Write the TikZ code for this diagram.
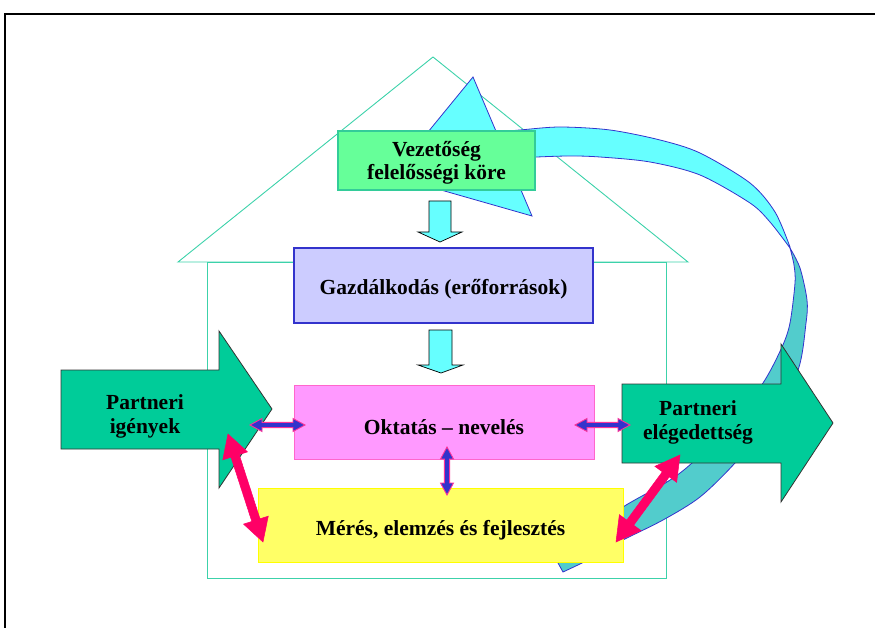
\documentclass[tikz,border=0pt]{standalone}
\usepackage{fontspec}
\setmainfont{Liberation Serif}
\usetikzlibrary{calc}
\definecolor{housec}{RGB}{60,210,170}
\definecolor{vezfill}{RGB}{102,255,153}
\definecolor{vezline}{RGB}{51,204,153}
\definecolor{gazfill}{RGB}{204,204,255}
\definecolor{gazline}{RGB}{51,51,204}
\definecolor{oktfill}{RGB}{255,153,255}
\definecolor{oktline}{RGB}{255,102,204}
\definecolor{merfill}{RGB}{255,255,102}
\definecolor{merline}{RGB}{255,255,0}
\definecolor{bigarr}{RGB}{0,204,153}
\definecolor{riblight}{RGB}{102,255,255}
\definecolor{ribdark}{RGB}{82,204,204}
\definecolor{ribline}{RGB}{51,51,204}
\definecolor{pinkarr}{RGB}{255,0,102}
\definecolor{bluearr}{RGB}{51,51,204}
\definecolor{bluearrline}{RGB}{255,51,153}
\newcommand{\dblarrow}[6]{%
  \filldraw[#6] (#1)
    -- ($(#1)!#3!(#2)!#4!90:(#2)$)
    -- ($(#1)!#3!(#2)!#5!90:(#2)$)
    -- ($(#2)!#3!(#1)!#5!-90:(#1)$)
    -- ($(#2)!#3!(#1)!#4!-90:(#1)$)
    -- (#2)
    -- ($(#2)!#3!(#1)!#4!90:(#1)$)
    -- ($(#2)!#3!(#1)!#5!90:(#1)$)
    -- ($(#1)!#3!(#2)!#5!-90:(#2)$)
    -- ($(#1)!#3!(#2)!#4!-90:(#2)$)
    -- cycle;}
\begin{document}
\begin{tikzpicture}[x=1pt,y=-1pt,
  lbl/.style={font=\fontsize{21.5}{23.5}\selectfont\bfseries,align=center,inner sep=0pt},
  boxshape/.style={rectangle,inner sep=0pt},
  downarr/.style={fill=riblight,draw=black,line width=0.7pt},
  bigshape/.style={fill=bigarr,draw=black!80,line width=0.8pt},
  ribbon/.style={draw=ribline,line width=0.8pt},
  pinkstyle/.style={fill=pinkarr,draw=pinkarr,line width=0.5pt},
  bluestyle/.style={fill=bluearr,draw=bluearrline,line width=0.9pt}]
\useasboundingbox (0,0) rectangle (875,628);
% frame
\draw[black,line width=1.8pt] (875,14.3) -- (5.2,14.3) -- (5.2,628);
% house
\draw[housec,line width=0.9pt] (178,262) -- (433,57) -- (688,262) -- cycle;
\draw[housec,line width=0.9pt] (207,262) rectangle (666,578);
% ribbon back (dark) part
\filldraw[ribbon,fill=ribdark]
  plot[smooth] coordinates {(563,572) (590,559) (617,543) (663,520) (700,497) (735,463) (770,420) (798,370) (806,323) (807,300) (800,268) (790,248)}
  -- plot[smooth] coordinates {(790,248) (794,265) (795,283) (790,323) (782,347) (763,383) (730,425) (692,463) (667,482) (623,507) (590,533) (558,563)}
  -- cycle;
% ribbon front (light) part
\filldraw[ribbon,fill=riblight]
  plot[smooth] coordinates {(488,133) (520,130) (560,127) (610,130) (660,140) (700,153) (750,183) (775,212) (790,247)}
  -- plot[smooth] coordinates {(790,248) (770,222) (750,203) (700,175) (650,162) (600,157) (567,156) (520,158) (498,162)}
  -- cycle;
% arrow head of ribbon
\filldraw[ribbon,fill=riblight] (473,77) -- (392,176) -- (532,216) -- cycle;
% boxes
\node[boxshape,fill=vezfill,draw=vezline,line width=1.2pt,minimum width=197pt,minimum height=59pt] (vez) at (436.5,160.5) {};
\node[boxshape,fill=gazfill,draw=gazline,line width=1.6pt,minimum width=299pt,minimum height=75pt] (gaz) at (443.5,285.5) {};
\node[boxshape,fill=oktfill,draw=oktline,line width=0.8pt,minimum width=300pt,minimum height=74pt] (okt) at (444,422) {};
\node[boxshape,fill=merfill,draw=merline,line width=0.8pt,minimum width=365pt,minimum height=74pt] (mer) at (440.5,525) {};
\node[lbl] (vezt) at (436.5,163) {Vezetőség\\felelősségi köre};
\node[lbl,anchor=base] (gazt) at (443.5,294.5) {Gazdálkodás (erőforrások)};
\node[lbl,anchor=base] (oktt) at (444,434) {Oktatás – nevelés};
\node[lbl,anchor=base] (mert) at (440.5,535.7) {Mérés, elemzés és fejlesztés};
% down arrows
\filldraw[downarr] (429,201) -- (451,201) -- (451,232) -- (462,232) -- (440,242) -- (418,232) -- (429,232) -- cycle;
\filldraw[downarr] (429,330) -- (452,330) -- (452,365) -- (463,365) -- (441,373) -- (418,365) -- (429,365) -- cycle;
% big arrows
\filldraw[bigshape] (61,370) -- (219,370) -- (219,331) -- (272,409) -- (219,488) -- (219,449) -- (61,449) -- cycle;
\filldraw[bigshape] (622,384) -- (781,384) -- (781,344) -- (833,423) -- (781,502) -- (781,463) -- (622,463) -- cycle;
\node[lbl] (pig) at (145,416.5) {Partneri\\igények};
\node[lbl] (pel) at (698,422.5) {Partneri\\elégedettség};
% pink double arrows
\coordinate (pl1) at (228,434);
\coordinate (pl2) at (263,542);
\coordinate (pr1) at (680,455);
\coordinate (pr2) at (616,542);
\dblarrow{pl1}{pl2}{23pt}{13pt}{4.3pt}{pinkstyle}
\dblarrow{pr1}{pr2}{24pt}{13.5pt}{4.3pt}{pinkstyle}
% small blue double arrows
\coordinate (bl1) at (250,425);
\coordinate (bl2) at (305,425);
\coordinate (br1) at (575,425);
\coordinate (br2) at (630,425);
\coordinate (bv1) at (447,447);
\coordinate (bv2) at (447,495);
\dblarrow{bl1}{bl2}{12pt}{6.5pt}{2.6pt}{bluestyle}
\dblarrow{br1}{br2}{12pt}{6.5pt}{2.6pt}{bluestyle}
\dblarrow{bv1}{bv2}{12pt}{6.5pt}{2.6pt}{bluestyle}
\end{tikzpicture}
\end{document}
